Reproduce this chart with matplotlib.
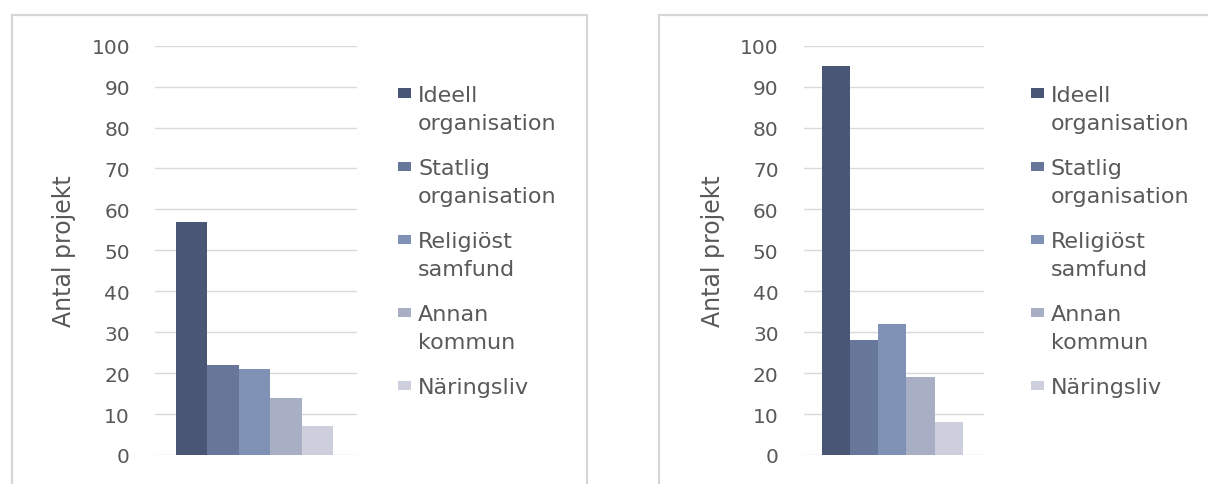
import numpy as np
import matplotlib
matplotlib.use("Agg")
import matplotlib.pyplot as plt
from matplotlib.patches import Rectangle

plt.rcParams['font.family'] = ['DejaVu Sans']

# kategorier och antal projekt per panel
kategorier = ['Ideell\norganisation', 'Statlig\norganisation', 'Religiöst\nsamfund',
              'Annan\nkommun', 'Näringsliv']
antal_vanster = [57, 22, 21, 14, 7]
antal_hoger = [95, 28, 32, 19, 8]
farger = ['#4a5676', '#67779a', '#7f92b6', '#a8afc4', '#cdd0dc']
y_ticks = [0, 10, 20, 30, 40, 50, 60, 70, 80, 90, 100]

W, H = 1208, 485
fig = plt.figure(figsize=(W / 100, H / 100), dpi=100)
textfarg = '#595959'


def px(x, y):
    # pixel -> figurkoordinater
    return x / W, 1 - y / H


def panel(left_px, right_px, values, ram, leg_x):
    # ram runt diagrammet
    x0, y0 = px(ram[0], ram[3])
    x1, y1 = px(ram[2], ram[1])
    fig.patches.append(Rectangle((x0, y0), x1 - x0, y1 - y0, transform=fig.transFigure,
                                 fill=False, edgecolor='#d6d6d6', linewidth=1.6))

    top, bottom = 46.7, 456
    ax = fig.add_axes([left_px / W, (H - bottom) / H, (right_px - left_px) / W, (bottom - top) / H])
    ax.bar(np.arange(len(values)), values, width=1.0, color=farger, zorder=2)
    ax.set_xlim(-1.15, 5.25)
    ax.set_ylim(0, 100)
    ax.set_yticks(y_ticks)
    ax.set_xticks([])
    ax.yaxis.grid(True, color='#d9d9d9', linewidth=1.0, zorder=0)
    ax.set_axisbelow(True)
    for s in ax.spines.values():
        s.set_visible(False)
    ax.tick_params(axis='y', length=0, pad=18, labelsize=14.5, labelcolor=textfarg)
    ax.set_ylabel('Antal projekt', fontsize=17, color=textfarg, labelpad=11)

    # förklaring med rutan i höjd med första raden
    for i, (namn, farg) in enumerate(zip(kategorier, farger)):
        cy = 94 + 73 * i
        rx, ry = px(leg_x, cy + 4.5)
        fig.patches.append(Rectangle((rx, ry), 13 / W, 9 / H, transform=fig.transFigure,
                                     facecolor=farg, edgecolor='none'))
        for j, rad in enumerate(namn.split('\n')):
            tx, ty = px(leg_x + 20, cy + 8 + 28 * j)
            fig.text(tx, ty, rad, fontsize=16, color=textfarg, va='baseline', ha='left')
    return ax


panel(155, 357, antal_vanster, (12, 16, 587, 500), 398)
panel(803.6, 984, antal_hoger, (659, 16, 1230, 500), 1031)

fig.savefig('out.png', dpi=100)
